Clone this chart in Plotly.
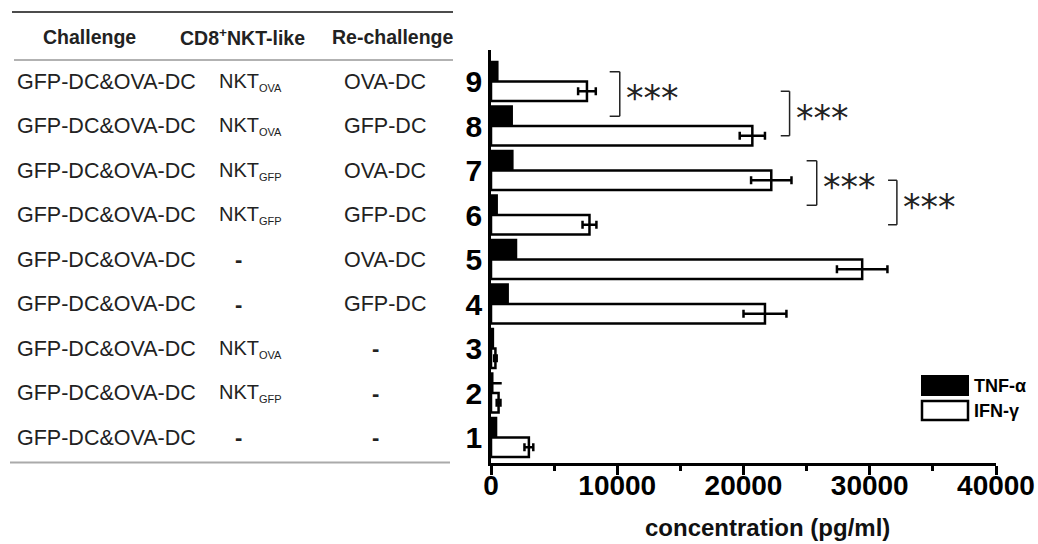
import plotly.graph_objects as go

# ---------------- data ----------------
groups = [1, 2, 3, 4, 5, 6, 7, 8, 9]
tnf = [400, 100, 150, 1320, 1980, 450, 1690, 1640, 500]
tnf_err = [0, 750, 0, 0, 0, 0, 0, 0, 0]
ifn = [3000, 600, 350, 21700, 29400, 7800, 22200, 20700, 7600]
ifn_err = [350, 150, 100, 1700, 2000, 550, 1600, 1000, 700]

challenge = ["GFP-DC&OVA-DC"] * 9
nkt = ["-", "NKT<sub>GFP</sub>", "NKT<sub>OVA</sub>", "-", "-",
       "NKT<sub>GFP</sub>", "NKT<sub>GFP</sub>", "NKT<sub>OVA</sub>", "NKT<sub>OVA</sub>"]
rechallenge = ["-", "-", "-", "GFP-DC", "OVA-DC", "GFP-DC", "OVA-DC", "GFP-DC", "OVA-DC"]
headers = ["Challenge", "CD8<sup>+</sup>NKT-like", "Re-challenge"]

x_ticks = [0, 10000, 20000, 30000, 40000]
x_title = "concentration (pg/ml)"
series_names = ["TNF-α", "IFN-γ"]

# significance brackets: (y_from, y_to, x_left, x_right, label)
brackets = [
    (9.219, 8.219, 9400, 10200, "***"),
    (8.781, 7.781, 22950, 23650, "***"),
    (7.219, 6.219, 25000, 25800, "***"),
    (6.781, 5.781, 31450, 32150, "***"),
]

# ---------------- layout helpers ----------------
W, H = 1038, 544
L, R, T, B = 491, 996, 50, 463
def px(xp):
    return (xp - L) / (R - L)
def py(yp):
    return (B - yp) / (B - T)

BW = 0.438
FONT = "Liberation Sans, Arial, sans-serif"

fig = go.Figure()
fig.add_trace(go.Bar(
    y=groups, x=tnf, orientation="h", name=series_names[0],
    offset=0, width=BW,
    marker=dict(color="black", line=dict(color="black", width=2.5)),
    error_x=dict(type="data", array=tnf_err, color="black", thickness=2.5, width=0, visible=True),
    showlegend=False,
))
fig.add_trace(go.Bar(
    y=groups, x=ifn, orientation="h", name=series_names[1],
    offset=-BW, width=BW,
    marker=dict(color="white", line=dict(color="black", width=2.5)),
    error_x=dict(type="data", array=ifn_err, color="black", thickness=2.5, width=4, visible=True),
    showlegend=False,
))

shapes = []
annos = []

# brackets
for y0, y1, xl, xr, lab in brackets:
    for path in [(xl, y0, xr, y0), (xr, y0, xr, y1), (xl, y1, xr, y1)]:
        shapes.append(dict(type="line", xref="x", yref="y",
                           x0=path[0], y0=path[1], x1=path[2], y1=path[3],
                           line=dict(color="#222", width=1.5)))
    annos.append(dict(x=xr, y=(y0 + y1) / 2, xref="x", yref="y", text=lab,
                      showarrow=False, xanchor="left", yanchor="middle", xshift=4, yshift=-4,
                      font=dict(family="DejaVu Sans", size=35, color="#222")))

# legend (drawn)
shapes.append(dict(type="rect", xref="paper", yref="paper",
                   x0=px(922), x1=px(968), y0=py(395), y1=py(376),
                   fillcolor="black", line=dict(color="black", width=2)))
shapes.append(dict(type="rect", xref="paper", yref="paper",
                   x0=px(922), x1=px(968), y0=py(420), y1=py(401),
                   fillcolor="white", line=dict(color="black", width=2.5)))
for name, yc in zip(series_names, [385.5, 410.5]):
    annos.append(dict(x=px(972), y=py(yc), xref="paper", yref="paper", text="<b>%s</b>" % name,
                      showarrow=False, xanchor="left", yanchor="middle",
                      font=dict(family=FONT, size=18, color="black")))

# table lines
shapes.append(dict(type="line", xref="paper", yref="paper", x0=px(12), x1=px(453),
                   y0=py(12), y1=py(12), line=dict(color="#111", width=1.5)))
shapes.append(dict(type="line", xref="paper", yref="paper", x0=px(14), x1=px(453),
                   y0=py(60), y1=py(60), line=dict(color="#999", width=1.5)))
shapes.append(dict(type="line", xref="paper", yref="paper", x0=px(10), x1=px(450),
                   y0=py(462.5), y1=py(462.5), line=dict(color="#aaa", width=2)))

# table headers
for h, xc in zip(headers, [89.5, 242.5, 393]):
    annos.append(dict(x=px(xc), y=py(37), xref="paper", yref="paper", text="<b>%s</b>" % h,
                      showarrow=False, xanchor="center", yanchor="middle",
                      font=dict(family=FONT, size=19.5, color="#222")))

# table rows
for g, c, n, r in zip(groups, challenge, nkt, rechallenge):
    annos.append(dict(x=px(15), y=g, xref="paper", yref="y", text=c, showarrow=False,
                      xanchor="left", yanchor="middle",
                      font=dict(family=FONT, size=21.5, color="#222")))
    if n == "-":
        annos.append(dict(x=px(238), y=g, xref="paper", yref="y", text="<b>-</b>", showarrow=False,
                          xanchor="center", yanchor="middle",
                          font=dict(family=FONT, size=22, color="#222")))
    else:
        base, sub = n.replace("</sub>", "").split("<sub>")
        annos.append(dict(x=px(217), y=g, xref="paper", yref="y",
                          text=base + "<sub><span style='font-size:11px'>" + sub + "</span></sub>",
                          showarrow=False, xanchor="left", yanchor="middle",
                          font=dict(family=FONT, size=20, color="#222")))
    if r == "-":
        annos.append(dict(x=px(375), y=g, xref="paper", yref="y", text="<b>-</b>", showarrow=False,
                          xanchor="center", yanchor="middle",
                          font=dict(family=FONT, size=22, color="#222")))
    else:
        annos.append(dict(x=px(385), y=g, xref="paper", yref="y", text=r, showarrow=False,
                          xanchor="center", yanchor="middle",
                          font=dict(family=FONT, size=21.5, color="#222")))

# axis title
annos.append(dict(x=px(767), y=py(527), xref="paper", yref="paper", text="<b>%s</b>" % x_title,
                  showarrow=False, xanchor="center", yanchor="middle",
                  font=dict(family=FONT, size=24, color="#111")))

fig.update_layout(
    width=W, height=H, autosize=False,
    margin=dict(l=L, r=W - R, t=T, b=H - B, pad=0, autoexpand=False),
    plot_bgcolor="white", paper_bgcolor="white",
    barmode="overlay",
    shapes=shapes, annotations=annos,
    showlegend=False,
    xaxis=dict(range=[0, 40000], tickvals=x_ticks, ticktext=[str(v) for v in x_ticks],
               showline=True, linecolor="black", linewidth=2.5, mirror=False, automargin=False,
               ticks="outside", ticklen=9, tickwidth=2.5, tickcolor="black",
               minor=dict(dtick=5000, ticks="outside", ticklen=5, tickwidth=2.5, tickcolor="black", showgrid=False),
               showgrid=False, zeroline=False, ticklabelstandoff=-13, ticklabeloverflow="allow",
               tickfont=dict(family=FONT, size=28, color="black", weight="bold")),
    yaxis=dict(range=[0.427, 9.708], tickvals=groups, ticktext=[str(g) for g in groups],
               showline=True, linecolor="black", linewidth=2.5, automargin=False,
               ticks="", showgrid=False, zeroline=False, ticklabelstandoff=0,
               tickfont=dict(family=FONT, size=30, color="black", weight="bold")),
)

fig.write_html("out.html", config={"displayModeBar": False},
               post_script="document.body.style.margin='0';document.body.style.padding='0';")
